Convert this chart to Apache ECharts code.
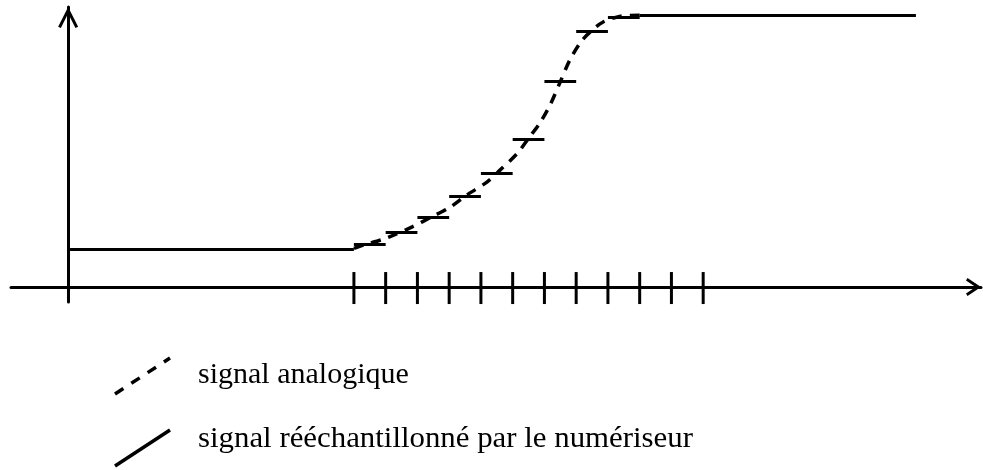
<!DOCTYPE html>
<html>
<head>
<meta charset="utf-8">
<title>Rééchantillonnage d'un signal analogique</title>
<script src="https://cdn.jsdelivr.net/npm/echarts@6/dist/echarts.min.js"></script>
<style>
  html, body { margin: 0; padding: 0; background: #fff; }
  #chart { width: 983px; height: 470px; }
</style>
</head>
<body>
<div id="chart"></div>
<script>
// Sample instants (ticks on the time axis)
const tickTimes = [9, 10, 11, 12, 13, 14, 15, 16, 17, 18, 19, 20];

// Held (resampled) signal: each level spans [heldFrom, heldTo]
const heldFrom  = [0,   9,    10,   11,   12,   13,   14,   15,   16,   17,   18];
const heldTo    = [9,   10,   11,   12,   13,   14,   15,   16,   17,   18,   26.7];
const heldLevel = [1.4, 1.57, 2.03, 2.58, 3.35, 4.18, 5.44, 7.57, 9.39, 9.91, 10];

// Analog signal during the transition
const analogT = [9.0, 9.3, 9.9, 10.25, 10.85, 11.45, 12.05, 12.55, 13.2, 13.6, 14.15,
                 14.5, 14.85, 15.2, 15.5, 15.8, 16.15, 16.45, 16.85, 17.4, 18.0];
const analogV = [1.42, 1.54, 1.75, 1.91, 2.22, 2.58, 2.95, 3.38, 3.87, 4.30, 4.92,
                 5.47, 6.02, 6.75, 7.55, 8.35, 9.02, 9.39, 9.75, 9.96, 10.0];

const legendLabels = ['signal analogique', 'signal rééchantillonné par le numériseur'];

const INK = '#000';
const SERIF = '"Liberation Serif", "Times New Roman", serif';

// Open chevron arrow heads (pointing up in local frame)
const arrowY = 'path://M10,0 L20,19.7 L17.3,21 L10,6.5 L2.7,21 L0,19.7 Z';
const arrowX = 'path://M9,0 L18,13.5 L15.5,15 L9,5.3 L2.5,15 L0,13.5 Z';

const chart = echarts.init(document.getElementById('chart'), null, { renderer: 'canvas' });

const heldSegments = heldLevel.map((v, i) => ({
  coords: [[heldFrom[i], v], [heldTo[i], v]]
}));

chart.setOption({
  animation: false,
  backgroundColor: '#fff',
  grid: { left: 11, right: 2, top: 7, bottom: 168, containLabel: false },
  xAxis: {
    type: 'value',
    min: -1.8,
    max: 28.75,
    axisLine: {
      show: true,
      onZero: true,
      symbol: ['none', arrowX],
      symbolSize: [18, 15],
      symbolOffset: [0, -7.5],
      lineStyle: { color: INK, width: 3 }
    },
    axisTick: { show: false },
    axisLabel: { show: false },
    splitLine: { show: false }
  },
  yAxis: {
    type: 'value',
    min: -0.55,
    max: 10.3,
    axisLine: {
      show: true,
      onZero: true,
      symbol: ['none', arrowY],
      symbolSize: [20, 21],
      symbolOffset: [0, -10.5],
      lineStyle: { color: INK, width: 3 }
    },
    axisTick: { show: false },
    axisLabel: { show: false },
    splitLine: { show: false }
  },
  series: [
    {
      name: legendLabels[0],
      type: 'line',
      data: analogT.map((t, i) => [t, analogV[i]]),
      showSymbol: false,
      smooth: 0.3,
      lineStyle: { color: INK, width: 3.5, type: [10, 8], cap: 'butt' },
      z: 3
    },
    {
      name: legendLabels[1],
      type: 'lines',
      coordinateSystem: 'cartesian2d',
      data: heldSegments,
      lineStyle: { color: INK, width: 3, opacity: 1 },
      z: 4
    },
    {
      name: 'échantillons',
      type: 'scatter',
      data: tickTimes.map(t => [t, 0]),
      symbol: 'rect',
      symbolSize: [3, 32],
      symbolOffset: [0, 1],
      itemStyle: { color: INK, opacity: 1 },
      z: 5
    }
  ],
  graphic: [
    {
      type: 'line',
      shape: { x1: 115, y1: 394, x2: 170, y2: 358 },
      style: { stroke: INK, lineWidth: 3.5, lineDash: [10, 9.5] }
    },
    {
      type: 'line',
      shape: { x1: 115, y1: 466, x2: 170, y2: 430 },
      style: { stroke: INK, lineWidth: 3.5 }
    },
    {
      type: 'text',
      x: 198, y: 375,
      style: { text: legendLabels[0], font: '30px ' + SERIF, fill: INK, verticalAlign: 'middle' }
    },
    {
      type: 'text',
      x: 198, y: 439,
      scaleX: 1.028,
      style: { text: legendLabels[1], font: '30px ' + SERIF, fill: INK, verticalAlign: 'middle' }
    }
  ]
});
</script>
</body>
</html>
